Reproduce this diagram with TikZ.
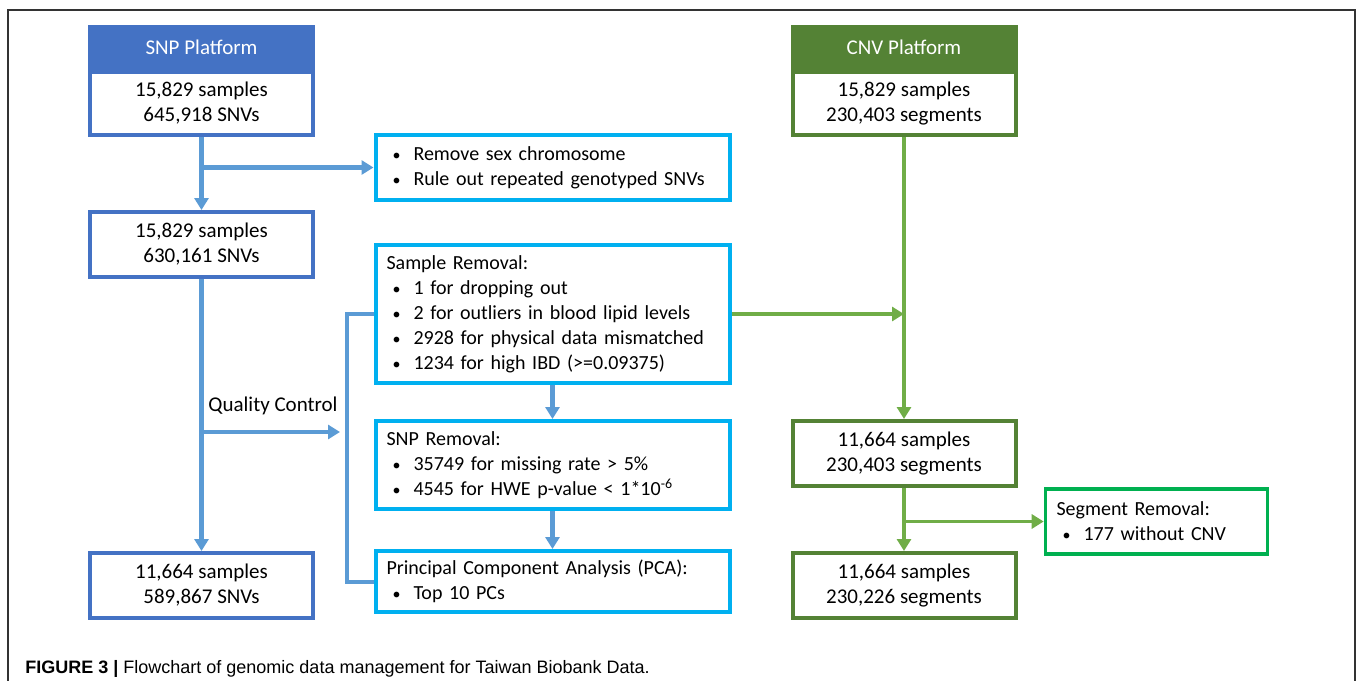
\documentclass[tikz,border=0pt]{standalone}
\usepackage{fontspec}
\setmainfont{Carlito}
\newfontfamily\capfont{Liberation Sans}
\usetikzlibrary{arrows.meta, positioning, calc}

\definecolor{snpblue}{HTML}{4472C4}
\definecolor{arrowblue}{HTML}{5B9BD5}
\definecolor{qccyan}{HTML}{00B0F0}
\definecolor{cnvgreen}{HTML}{548235}
\definecolor{arrowgreen}{HTML}{70AD47}
\definecolor{seggreen}{HTML}{00B050}
\definecolor{framegray}{HTML}{333333}

\newcommand{\bul}{\hspace*{3pt}\makebox[10.5pt][l]{\fontsize{8}{8}\selectfont\textbullet}}

\tikzset{
    every node/.style={font=\fontsize{10.5}{12.5}\selectfont},
    headbox/.style={draw=#1, fill=#1, text=white, line width=2pt,
        minimum width=111.5pt, minimum height=20.5pt, inner sep=0pt},
    countbox/.style={draw=#1, fill=white, line width=2pt, align=center,
        minimum width=111.5pt, minimum height=32.5pt, inner sep=0pt},
    qcbox/.style={draw=qccyan, line width=2pt, align=left, text width=166pt,
        inner xsep=5.5pt, inner ysep=2pt, font=\fontsize{10}{12.5}\selectfont},
    segbox/.style={draw=seggreen, line width=1.8pt, align=left, text width=100pt,
        inner xsep=5.5pt, inner ysep=2pt, minimum height=32.5pt,
        font=\fontsize{10}{12.5}\selectfont},
    bluearrow/.style={draw=arrowblue, line width=2.3pt,
        -{Triangle[length=6pt, width=7pt]}},
    greenarrow/.style={draw=arrowgreen, line width=1.9pt,
        -{Triangle[length=6pt, width=7pt]}},
}

\begin{document}
\begin{tikzpicture}[x=0.5pt, y=-0.5pt]
    \useasboundingbox (0,0) rectangle (1357,681);

    % Frame
    \draw[framegray, line width=0.8pt] (8,681) -- (8,10) -- (1355,10) -- (1355,681);

    % SNP side
    \node[headbox=snpblue] (snphead) at (201.5,47.5) {SNP Platform};
    \node[countbox=snpblue, minimum height=31.5pt, below=0pt of snphead] (snp0)
        {15,829 samples\\645,918 SNVs};
    \node[countbox=snpblue] (snp1) at (201.5,244.5) {15,829 samples\\630,161 SNVs};
    \node[countbox=snpblue] (snp2) at (201.5,585.5) {11,664 samples\\589,867 SNVs};

    % QC steps
    \node[qcbox, minimum height=32.5pt] (filt) at (552.5,167.5)
        {\bul Remove sex chromosome\\\bul Rule out repeated genotyped SNVs};
    \node[qcbox, minimum height=69pt] (sampl) at (552.5,314)
        {Sample Removal:\\\bul 1 for dropping out\\\bul 2 for outliers in blood lipid levels\\
         \bul 2928 for physical data mismatched\\\bul 1234 for high IBD (>=0.09375)};
    \node[qcbox, minimum height=44pt] (snprm) at (552.5,465)
        {SNP Removal:\\\bul 35749 for missing rate > 5\%\\
         \bul 4545 for HWE p-value < 1*10\textsuperscript{-6}};
    \node[qcbox, minimum height=30.5pt] (pca) at (552.5,581.5)
        {Principal Component Analysis (PCA):\\\bul Top 10 PCs};

    % CNV side
    \node[headbox=cnvgreen] (cnvhead) at (904,47.5) {CNV Platform};
    \node[countbox=cnvgreen, minimum height=31.5pt, below=0pt of cnvhead] (cnv0)
        {15,829 samples\\230,403 segments};
    \node[countbox=cnvgreen] (cnv1) at (904,453.5) {11,664 samples\\230,403 segments};
    \node[countbox=cnvgreen] (cnv2) at (904,585.5) {11,664 samples\\230,226 segments};
    \node[segbox] (segrm) at (1156.5,521.5) {Segment Removal:\\\bul 177 without CNV};

    % Blue connectors
    \draw[bluearrow] (snp0.south) -- (snp1.north);
    \draw[bluearrow] (snp0.south |- filt.west) -- (filt.west);
    \draw[bluearrow] (snp1.south) -- (snp2.north);
    \coordinate (brk) at (347,432);
    \draw[bluearrow, shorten >=3.5pt] (snp1.south |- brk) -- (brk);
    \node (qclabel) at (273,406) {Quality Control};
    \draw[arrowblue, line width=2pt] (sampl.west) -| (brk) |- (pca.west);
    \draw[bluearrow] (sampl.south) -- (snprm.north);
    \draw[bluearrow] (snprm.south) -- (pca.north);

    % Green connectors
    \draw[greenarrow] (cnv0.south) -- (cnv1.north);
    \draw[greenarrow] (sampl.east) -- (cnv0.south |- sampl.east);
    \draw[greenarrow] (cnv1.south) -- (cnv2.north);
    \draw[greenarrow] (cnv1.south |- segrm.west) -- (segrm.west);

    % Caption
    \node[anchor=base west, inner sep=0pt,
          font=\capfont\fontsize{9}{10}\selectfont] (caption) at (25,673)
        {\textbf{FIGURE 3 |} Flowchart of genomic data management for Taiwan Biobank Data.};
\end{tikzpicture}
\end{document}
